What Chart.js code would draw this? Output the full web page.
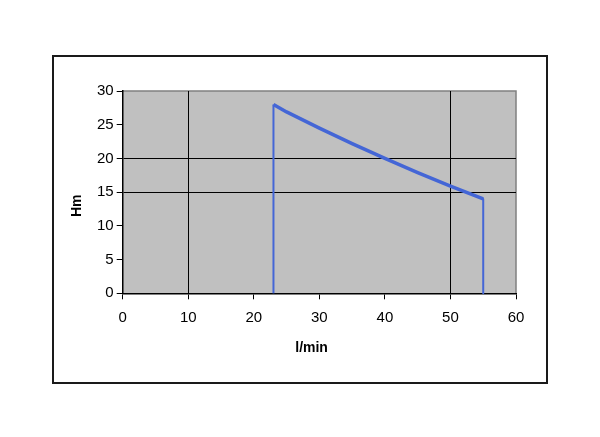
<!DOCTYPE html>
<html>
<head>
<meta charset="utf-8">
<script src="https://cdn.jsdelivr.net/npm/chart.js@4"></script>
<style>
  html, body { margin: 0; padding: 0; background: #fff; }
  canvas { display: block; }
</style>
</head>
<body>
<canvas id="c" width="600" height="437"></canvas>
<script>
// Flow (l/min) and head (Hm)
const flow = [23, 23, 25, 30, 35, 40, 45, 50, 55, 55];
const head = [0, 28, 26.9, 24.5, 22.2, 20.0, 17.9, 15.9, 14.0, 0];
const xTickValues = [0, 10, 20, 30, 40, 50, 60];
const yTickValues = [0, 5, 10, 15, 20, 25, 30];
const xGridShown = [10, 50];
const yGridShown = [15, 20];
const xTitle = 'l/min    ';
const yTitle = 'Hm       ';

const points = flow.map((x, i) => ({ x: x, y: head[i] }));
const lastIdx = points.length - 1;

const frame = {
  id: 'frame',
  beforeDraw(chart) {
    const ctx = chart.ctx;
    const a = chart.chartArea;
    ctx.save();
    ctx.fillStyle = '#ffffff';
    ctx.fillRect(0, 0, chart.width, chart.height);
    ctx.strokeStyle = '#1a1a1a';
    ctx.lineWidth = 2;
    ctx.strokeRect(53, 56, 494, 327);
    ctx.fillStyle = '#c0c0c0';
    ctx.fillRect(a.left, a.top, a.right - a.left, a.bottom - a.top);
    ctx.strokeStyle = '#808080';
    ctx.lineWidth = 1.5;
    ctx.beginPath();
    ctx.moveTo(a.left, a.top);
    ctx.lineTo(a.right, a.top);
    ctx.lineTo(a.right, a.bottom);
    ctx.stroke();
    ctx.restore();
  }
};

new Chart(document.getElementById('c'), {
  type: 'scatter',
  data: {
    datasets: [{
      data: points,
      showLine: true,
      borderColor: 'rgb(68,102,214)',
      borderWidth: 3.5,
      borderJoinStyle: 'round',
      pointRadius: 0,
      tension: 0,
      clip: false,
      segment: {
        borderWidth: c => (c.p0DataIndex === 0 || c.p1DataIndex === lastIdx) ? 2 : 3.5
      }
    }]
  },
  plugins: [frame],
  options: {
    responsive: false,
    animation: false,
    events: [],
    layout: { padding: { top: 91, right: 84, bottom: 0, left: 0 } },
    plugins: { legend: { display: false }, tooltip: { enabled: false } },
    scales: {
      x: {
        type: 'linear',
        min: 0, max: 60,
        afterBuildTicks: s => { s.ticks = xTickValues.map(v => ({ value: v })); },
        afterFit: s => { s.height = 143.7; },
        ticks: { color: '#000', font: { family: 'Liberation Sans', size: 15 }, padding: 10 },
        grid: {
          color: c => xGridShown.includes(c.tick && c.tick.value) ? '#000' : 'rgba(0,0,0,0)',
          tickColor: '#000',
          tickLength: 6,
          lineWidth: 1
        },
        border: { color: '#000', width: 1.5 },
        title: {
          display: true, text: xTitle, color: '#000',
          font: { family: 'Liberation Sans', size: 14, weight: 'bold' },
          padding: { top: 0, bottom: 80.6 }
        }
      },
      y: {
        type: 'linear',
        min: 0, max: 30,
        afterBuildTicks: s => { s.ticks = yTickValues.map(v => ({ value: v })); },
        afterFit: s => { s.width = 122.7; },
        ticks: { color: '#000', font: { family: 'Liberation Sans', size: 15 }, padding: 3 },
        grid: {
          color: c => yGridShown.includes(c.tick && c.tick.value) ? '#000' : 'rgba(0,0,0,0)',
          tickColor: '#000',
          tickLength: 6,
          lineWidth: 1
        },
        border: { color: '#000', width: 1.5 },
        title: {
          display: true, text: yTitle, color: '#000',
          font: { family: 'Liberation Sans', size: 14, weight: 'bold' },
          padding: { top: 68.6, bottom: 0 }
        }
      }
    }
  }
});
</script>
</body>
</html>
